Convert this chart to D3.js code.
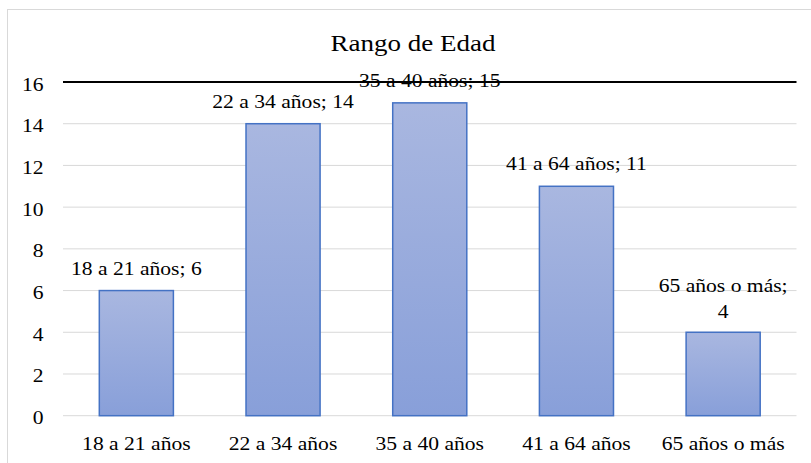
<!doctype html>
<html>
<head>
    <meta charset="utf-8">
    <style>
        body { margin: 0; background: #fff; }
        .grid line { stroke: #d9d9d9; stroke-width: 1; }
    </style>
    <script src="https://d3js.org/d3.v7.min.js"></script>
</head>
<body>
    <svg width="811" height="463"></svg>
    <script>
        var categories = ["18 a 21 años", "22 a 34 años", "35 a 40 años", "41 a 64 años", "65 años o más"];
        var values = [6, 14, 15, 11, 4];
        var yTicks = [0, 2, 4, 6, 8, 10, 12, 14, 16];
        var title = "Rango de Edad";

        var svg = d3.select("svg");
        var stretch = 1.2; // the picture is a bit wider than tall
        var serif = "'Liberation Serif', 'DejaVu Serif', serif";

        // outer frame (runs off the right and bottom edges)
        svg.append("rect")
           .attr("x", 7.5).attr("y", 9.5)
           .attr("width", 900).attr("height", 500)
           .attr("fill", "none")
           .attr("stroke", "#d9d9d9");

        var plotLeft = 63, plotRight = 796.5, plotTop = 82, plotBottom = 415.7;

        var xScale = d3.scaleBand().domain(categories).range([plotLeft, plotRight]).paddingInner(0.495).paddingOuter(0.2475),
            yScale = d3.scaleLinear().domain([0, 16]).range([plotBottom, plotTop]);

        var defs = svg.append("defs");
        var grad = defs.append("linearGradient")
            .attr("id", "barFill").attr("x1", 0).attr("y1", 0).attr("x2", 0).attr("y2", 1);
        grad.append("stop").attr("offset", "0%").attr("stop-color", "#a9b7e0");
        grad.append("stop").attr("offset", "100%").attr("stop-color", "#889fd9");

        function putText(sel, x, y, size, anchor) {
            return sel.attr("transform", "translate(" + x + "," + y + ") scale(" + stretch + ",1)")
                      .attr("font-family", serif)
                      .attr("font-size", size + "px")
                      .attr("fill", "#000")
                      .attr("text-anchor", anchor);
        }

        // gridlines
        svg.append("g").attr("class", "grid")
           .selectAll("line")
           .data(yTicks.filter(function(d) { return d < 16; }))
           .enter().append("line")
           .attr("x1", plotLeft).attr("x2", plotRight)
           .attr("y1", function(d) { return yScale(d); })
           .attr("y2", function(d) { return yScale(d); });

        // y tick labels
        svg.append("g")
           .selectAll("text")
           .data(yTicks)
           .enter().append("text")
           .each(function(d) { putText(d3.select(this), 43.5, yScale(d) + 8.5, 18, "end"); })
           .text(function(d) { return d; });

        // bars
        svg.append("g")
           .selectAll("rect")
           .data(values)
           .enter().append("rect")
           .attr("x", function(d, i) { return xScale(categories[i]); })
           .attr("y", function(d) { return yScale(d); })
           .attr("width", xScale.bandwidth())
           .attr("height", function(d) { return plotBottom - yScale(d); })
           .attr("fill", "url(#barFill)")
           .attr("stroke", "#4472c4")
           .attr("stroke-width", 1.5);

        // top line at 16
        svg.append("line")
           .attr("x1", plotLeft).attr("x2", plotRight)
           .attr("y1", yScale(16)).attr("y2", yScale(16))
           .attr("stroke", "#000").attr("stroke-width", 2);

        // x labels
        svg.append("g")
           .selectAll("text")
           .data(categories)
           .enter().append("text")
           .each(function(d) { putText(d3.select(this), xScale(d) + xScale.bandwidth() / 2, 450, 18, "middle"); })
           .text(function(d) { return d; });

        // data labels
        svg.append("g")
           .selectAll("text")
           .data(values)
           .enter().append("text")
           .each(function(d, i) {
               var cx = xScale(categories[i]) + xScale.bandwidth() / 2;
               var t = d3.select(this);
               if (i === values.length - 1) {
                   putText(t, cx, yScale(d) - 14.5, 18, "middle");
                   t.append("tspan").attr("x", 0).attr("dy", "-1.42em").text(categories[i] + ";");
                   t.append("tspan").attr("x", 0).attr("dy", "1.42em").text(d);
               } else {
                   putText(t, cx, yScale(d) - 16, 18, "middle");
                   t.text(categories[i] + "; " + d);
               }
           });

        // title
        putText(svg.append("text"), 413, 51, 22.5, "middle").text(title);
    </script>
</body>
</html>
